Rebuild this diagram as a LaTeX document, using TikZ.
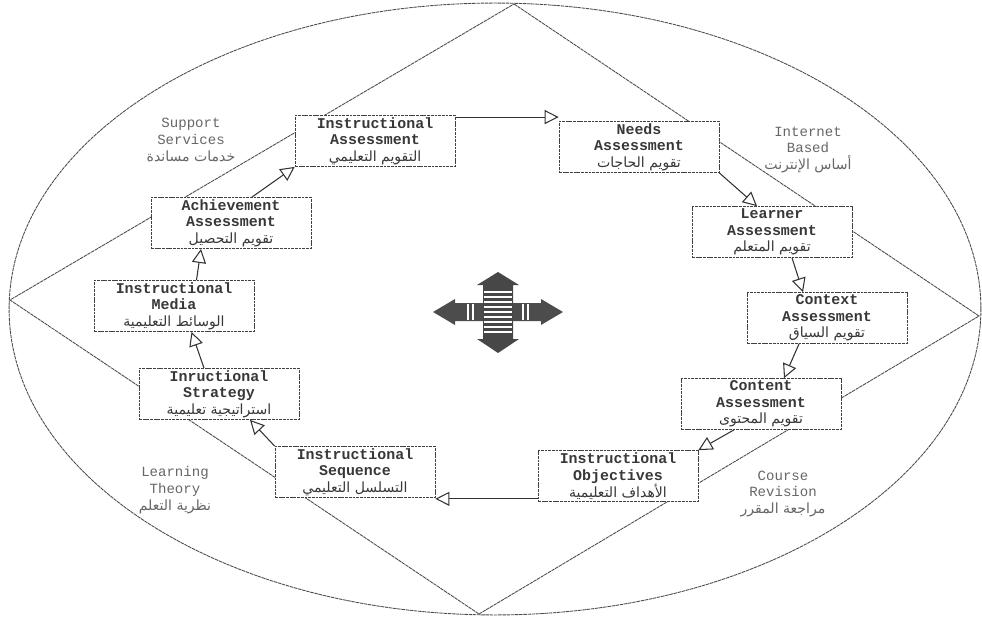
\documentclass[tikz,border=0pt]{standalone}
\usepackage{fontspec}
\setmonofont{Liberation Mono}
\newfontfamily\arabicfont[Script=Arabic]{DejaVu Sans}
\TeXXeTstate=1
\usetikzlibrary{arrows.meta}
\newcommand{\arab}[1]{{\arabicfont\mdseries\fontsize{8}{9}\selectfont\beginR #1\endR}}
\tikzset{
  stage/.style={draw=black!75,dash pattern=on 1.6pt off 0.5pt,fill=white,
    minimum width=3.2cm,minimum height=1.02cm,inner sep=1pt,align=center,
    text=black!78,font=\ttfamily\bfseries\fontsize{8.5}{9.5}\selectfont},
  area/.style={align=center,text=black!60,font=\ttfamily\fontsize{8}{9.5}\selectfont},
  flow/.style={draw=black!80,line width=0.6pt,
    -{Triangle[open,length=8pt,width=8pt]}},
  frame/.style={draw=black!70,line width=0.5pt,dash pattern=on 2pt off 0.4pt}
}
\begin{document}
\begin{tikzpicture}[x=0.02cm,y=-0.02cm]
  \useasboundingbox (0,0) rectangle (982,621);
  \draw [frame] (495,309) ellipse [x radius=9.72cm,y radius=6.12cm];
  \coordinate (top) at (514,4);
  \coordinate (left) at (10,300);
  \coordinate (right) at (979,316);
  \coordinate (bottom) at (479,614);
  \draw [frame] (top) -- (right) -- (bottom) -- (left) -- cycle;
  % stages
  \node [stage] (IA) at (375,141) {Instructional\\Assessment\\\arab{التقويم التعليمي}};
  \node [stage] (NA) at (639,147) {Needs\\Assessment\\\arab{تقويم الحاجات}};
  \node [stage] (LA) at (772,232) {Learner\\Assessment\\\arab{تقويم المتعلم}};
  \node [stage] (CX) at (827,318) {Context\\Assessment\\\arab{تقويم السياق}};
  \node [stage] (CT) at (761,404) {Content\\Assessment\\\arab{تقويم المحتوى}};
  \node [stage] (IO) at (618,476) {Instructional\\Objectives\\\arab{الأهداف التعليمية}};
  \node [stage] (IS) at (355,472) {Instructional\\Sequence\\\arab{التسلسل التعليمي}};
  \node [stage] (ST) at (219,394) {Inructional\\Strategy\\\arab{استراتيجية تعليمية}};
  \node [stage] (IM) at (174,306) {Instructional\\Media\\\arab{الوسائط التعليمية}};
  \node [stage] (AA) at (231,223) {Achievement\\Assessment\\\arab{تقويم التحصيل}};
  % areas
  \node [area] (support) at (191,140) {Support\\Services\\\arab{خدمات مساندة}};
  \node [area] (internet) at (808,150) {Internet\\Based\\\arab{أساس الإنترنت}};
  \node [area] (theory) at (175,490) {Learning\\Theory\\\arab{نظرية التعلم}};
  \node [area] (revision) at (783,494) {Course\\Revision\\\arab{مراجعة المقرر}};
  % cycle
  \draw [flow] ([yshift=-0.04cm]IA.north east) -- ([yshift=-0.04cm]IA.north east -| NA.west);
  \draw [flow] (NA.south east) -- ([xshift=-0.3cm]LA.north);
  \draw [flow] ([xshift=0.4cm]LA.south) -- ([xshift=-0.48cm]CX.north);
  \draw [flow] ([xshift=-0.56cm]CX.south) -- ([xshift=0.46cm]CT.north);
  \draw [flow] ([xshift=-0.54cm]CT.south) -- (IO.north east);
  \draw [flow] ([yshift=0.06cm]IO.south west) -- ([yshift=0.06cm]IO.south west -| IS.east);
  \draw [flow] (IS.north west) -- ([xshift=0.62cm]ST.south);
  \draw [flow] ([xshift=-0.3cm]ST.north) -- ([xshift=0.35cm]IM.south);
  \draw [flow] ([xshift=0.45cm]IM.north) -- ([xshift=-0.6cm]AA.south);
  \draw [flow] ([xshift=0.42cm]AA.north) -- (IA.south west);
  % centre cross
  \begin{scope}[shift={(498,312)}]
    \fill [black!70] (-65,0) -- (-43,-13) -- (-43,-9) -- (43,-9) -- (43,-13)
      -- (65,0) -- (43,13) -- (43,9) -- (-43,9) -- (-43,13) -- cycle;
    \fill [black!72] (0,-40) -- (21,-27) -- (15,-27) -- (15,27) -- (21,27)
      -- (0,41) -- (-21,27) -- (-15,27) -- (-15,-27) -- (-21,-27) -- cycle;
    \foreach \y in {-20,-15,...,20}
      \draw [white,line width=0.9pt] (-14,\y) -- (14,\y);
    \foreach \x in {-30,-25,25,30}
      \draw [white,line width=0.9pt] (\x,-8) -- (\x,8);
  \end{scope}
\end{tikzpicture}
\end{document}
